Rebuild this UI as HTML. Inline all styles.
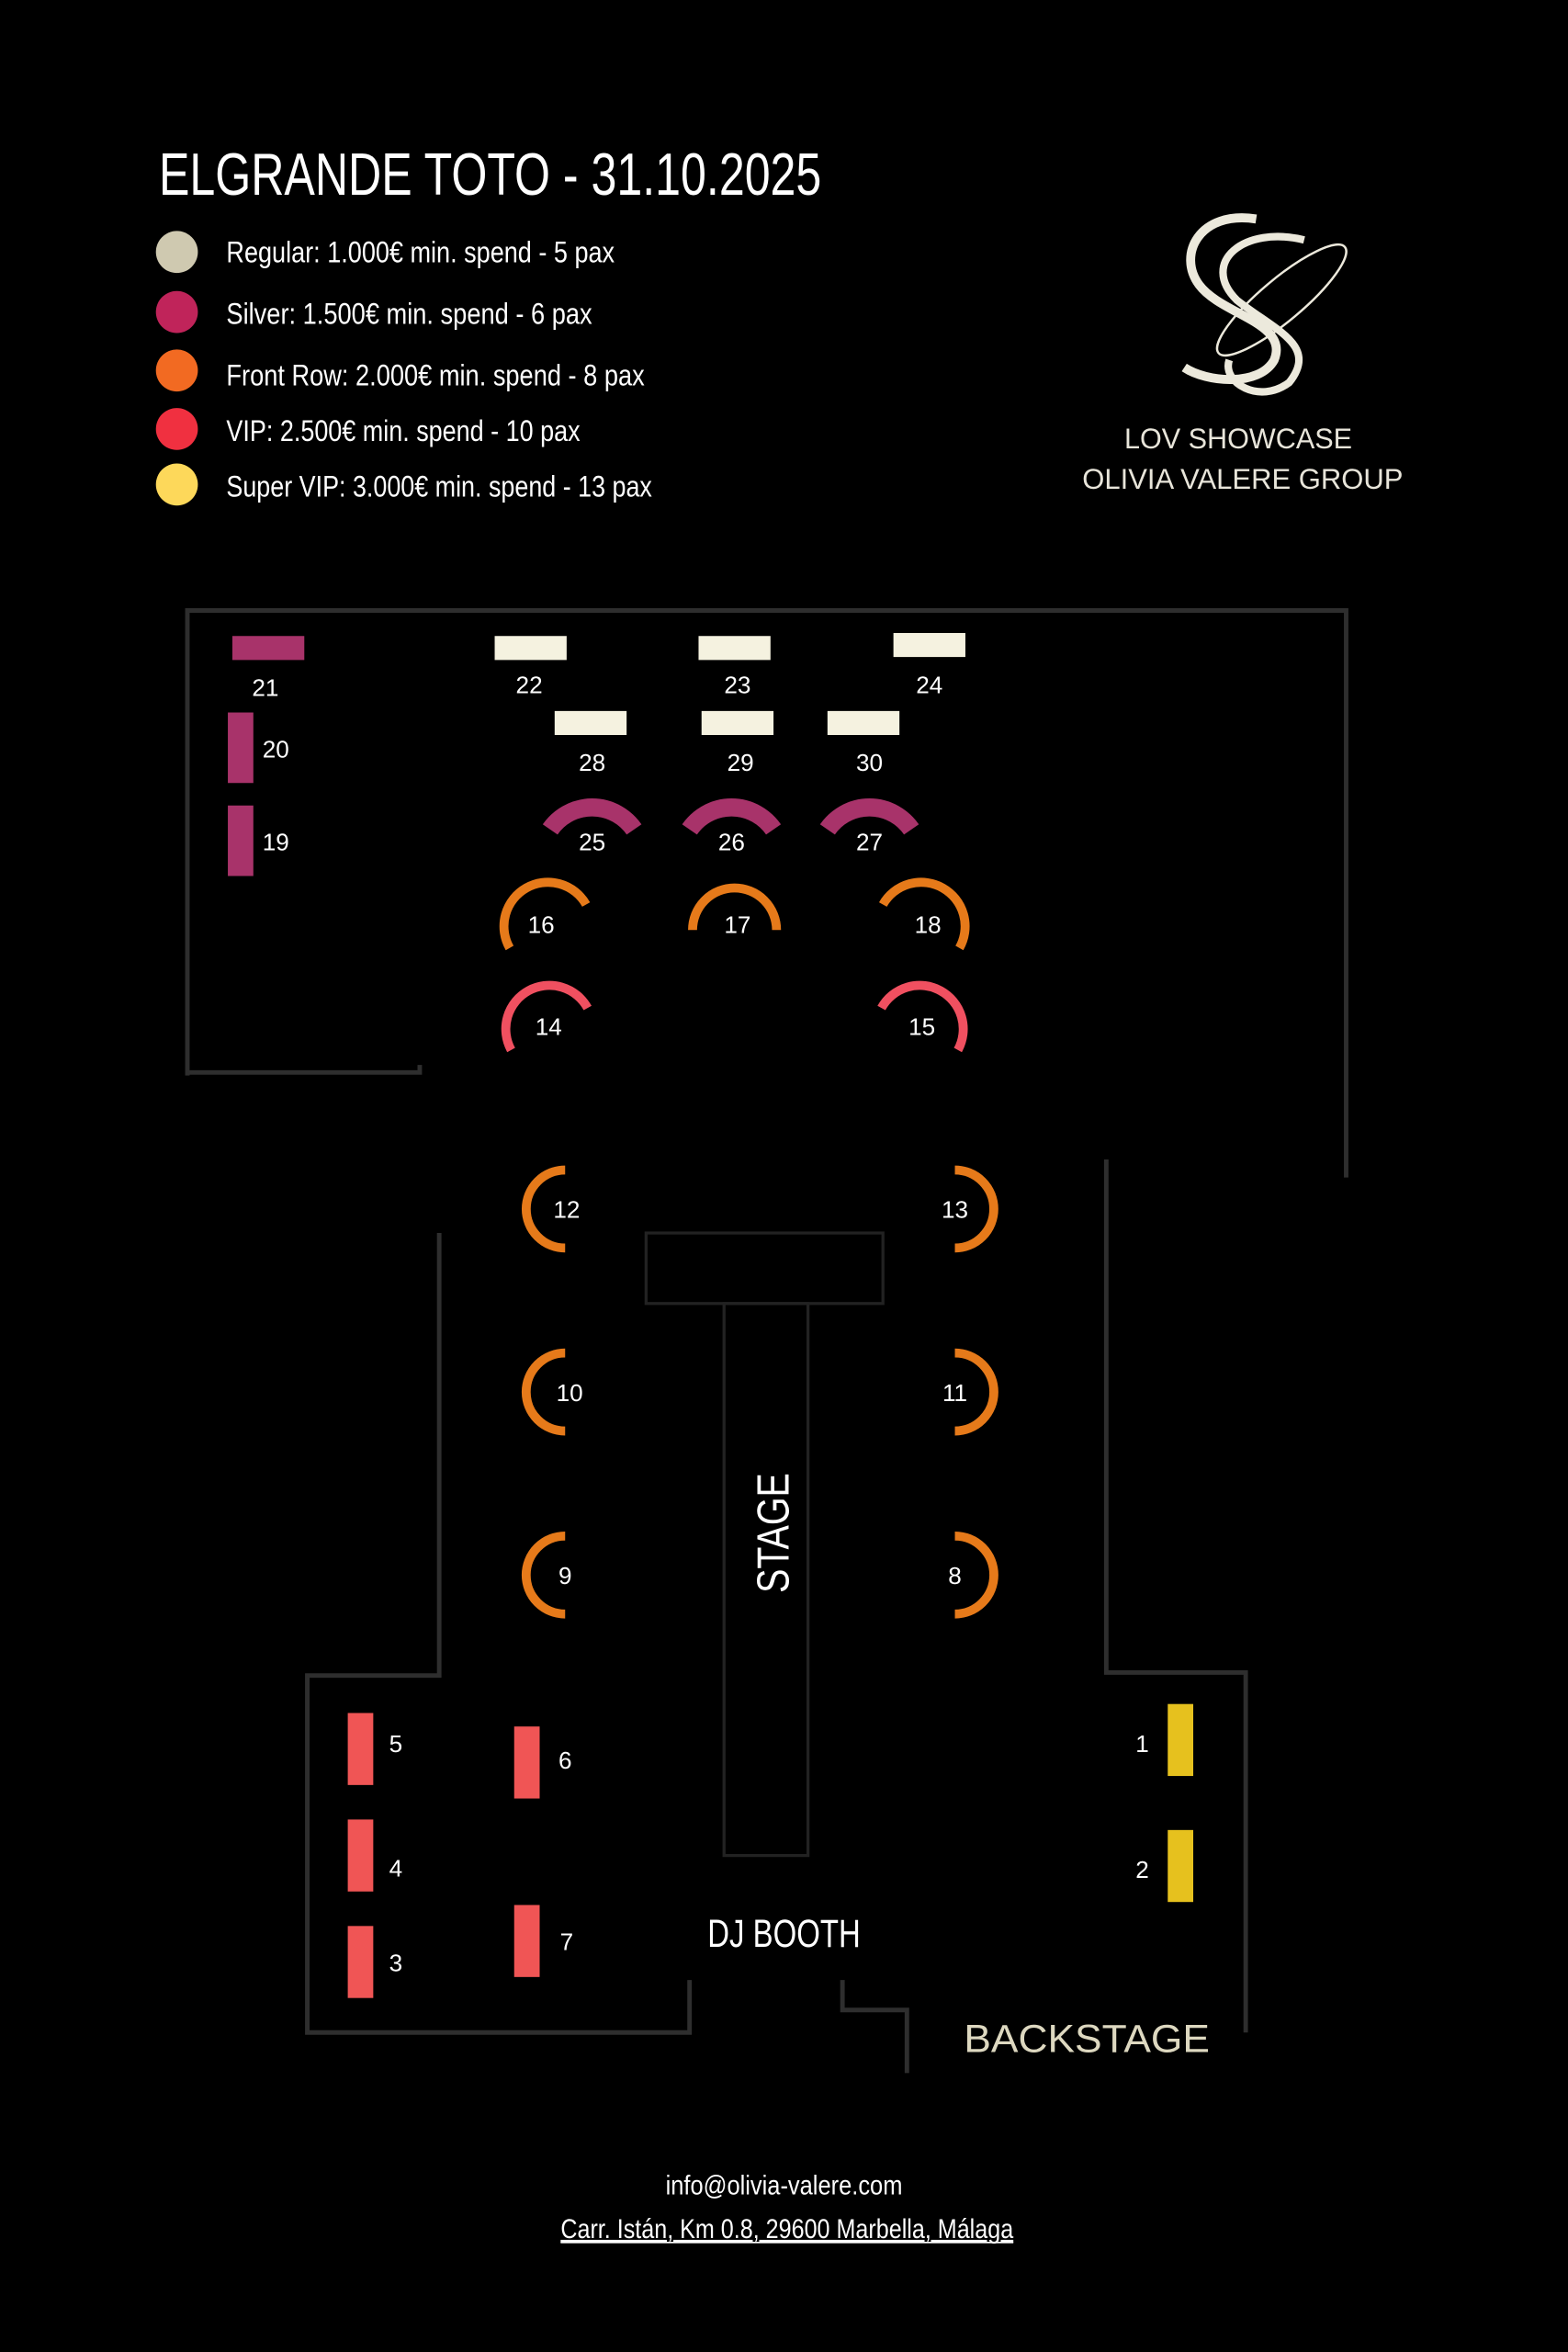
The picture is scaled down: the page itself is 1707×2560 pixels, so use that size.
<!DOCTYPE html>
<html><head><meta charset="utf-8"><style>
html,body{margin:0;padding:0;background:#000;}
svg{display:block;}
text{font-family:"Liberation Sans",sans-serif;}
</style></head><body>
<svg width="1707" height="2560" viewBox="0 0 1046 1568" preserveAspectRatio="none" xmlns="http://www.w3.org/2000/svg">
<rect width="1046" height="1568" fill="#000"/>
<text x="106" y="130" font-size="40" fill="#fff" textLength="442" lengthAdjust="spacingAndGlyphs">ELGRANDE TOTO - 31.10.2025</text>
<g font-size="20" fill="#fff">
<circle cx="118" cy="168" r="14" fill="#cfc9b0"/><text x="151" y="175" textLength="259" lengthAdjust="spacingAndGlyphs">Regular: 1.000€ min. spend - 5 pax</text>
<circle cx="118" cy="208" r="14" fill="#c0245a"/><text x="151" y="216" textLength="244" lengthAdjust="spacingAndGlyphs">Silver: 1.500€ min. spend - 6 pax</text>
<circle cx="118" cy="247" r="14" fill="#f26a22"/><text x="151" y="257" textLength="279" lengthAdjust="spacingAndGlyphs">Front Row: 2.000€ min. spend - 8 pax</text>
<circle cx="118" cy="286" r="14" fill="#f03040"/><text x="151" y="294" textLength="236" lengthAdjust="spacingAndGlyphs">VIP: 2.500€ min. spend - 10 pax</text>
<circle cx="118" cy="323" r="14" fill="#fdd85a"/><text x="151" y="331" textLength="284" lengthAdjust="spacingAndGlyphs">Super VIP: 3.000€ min. spend - 13 pax</text>
</g>
<!-- logo -->
<g fill="none" stroke="#ece9dc">
<path d="M838 146 C800 140 785 170 800 190 C815 210 860 215 850 240 C840 258 805 255 790 245" stroke-width="6"/>
<path d="M870 160 C830 150 800 175 825 200 C850 220 880 230 860 255 C840 270 815 255 820 240" stroke-width="5"/>
<ellipse cx="855" cy="200" rx="55" ry="14" transform="rotate(-40 855 200)" stroke-width="1.5"/>
</g>
<text x="826" y="299" font-size="19" fill="#e8e5da" text-anchor="middle" textLength="152" lengthAdjust="spacingAndGlyphs">LOV SHOWCASE</text>
<text x="829" y="326" font-size="19" fill="#e8e5da" text-anchor="middle" textLength="214" lengthAdjust="spacingAndGlyphs">OLIVIA VALERE GROUP</text>
<!-- walls -->
<g stroke="#2e2e2e" stroke-width="3" fill="none">
<polyline points="125,717 125,407 898,407 898,785"/>
<polyline points="125,715 280,715 280,710"/>
<polyline points="293,822 293,1117 205,1117 205,1355 460,1355 460,1320"/>
<polyline points="738,773 738,1115 831,1115 831,1355"/>
<polyline points="562,1320 562,1340 605,1340 605,1382"/>
</g>
<g stroke="#222" stroke-width="2" fill="none">
<rect x="431" y="822" width="158" height="47"/>
<rect x="483" y="869" width="56" height="368"/>
</g>
<text transform="translate(526,1022) rotate(-90)" font-size="30" fill="#fff" text-anchor="middle" textLength="80" lengthAdjust="spacingAndGlyphs">STAGE</text>
<text x="523" y="1298" font-size="26" fill="#fff" text-anchor="middle" textLength="102" lengthAdjust="spacingAndGlyphs">DJ BOOTH</text>
<text x="725" y="1368" font-size="26" fill="#ddd8c0" text-anchor="middle" textLength="164" lengthAdjust="spacingAndGlyphs">BACKSTAGE</text>
<!-- silver tables -->
<g fill="#a8336a">
<rect x="155" y="424" width="48" height="16"/><rect x="152" y="475" width="17" height="47"/><rect x="152" y="537" width="17" height="47"/>
</g>
<g fill="#f5f2e0">
<rect x="330" y="424" width="48" height="16"/><rect x="466" y="424" width="48" height="16"/><rect x="596" y="422" width="48" height="16"/>
<rect x="370" y="474" width="48" height="16"/><rect x="468" y="474" width="48" height="16"/><rect x="552" y="474" width="48" height="16"/>
</g>
<!-- silver arcs -->
<g fill="none" stroke="#a8336a" stroke-width="12">
<path d="M367 553 A34 34 0 0 1 423 553"/>
<path d="M460 553 A34 34 0 0 1 516 553"/>
<path d="M552 553 A34 34 0 0 1 608 553"/>
</g>
<!-- front row arcs -->
<g fill="none" stroke="#e67a1a" stroke-width="6">
<path d="M340 632 A27 27 0 0 1 391 603"/>
<path d="M462 620 A28 28 0 0 1 518 620"/>
<path d="M640 632 A27 27 0 0 0 589 603"/>
<path d="M377 780 A26 26 0 0 0 377 832"/>
<path d="M377 902 A26 26 0 0 0 377 954"/>
<path d="M377 1024 A26 26 0 0 0 377 1076"/>
<path d="M637 780 A26 26 0 0 1 637 832"/>
<path d="M637 902 A26 26 0 0 1 637 954"/>
<path d="M637 1024 A26 26 0 0 1 637 1076"/>
</g>
<g fill="none" stroke="#f05060" stroke-width="6">
<path d="M341 700 A27 27 0 0 1 392 672"/>
<path d="M639 700 A27 27 0 0 0 588 672"/>
</g>
<g fill="#f05555">
<rect x="232" y="1142" width="17" height="48"/><rect x="232" y="1213" width="17" height="48"/><rect x="232" y="1284" width="17" height="48"/>
<rect x="343" y="1151" width="17" height="48"/><rect x="343" y="1270" width="17" height="48"/>
</g>
<g fill="#e6c11e">
<rect x="779" y="1136" width="17" height="48"/><rect x="779" y="1220" width="17" height="48"/>
</g>
<g font-size="16" fill="#fff" text-anchor="middle">
<text x="177" y="464">21</text><text x="184" y="505">20</text><text x="184" y="567">19</text>
<text x="353" y="462">22</text><text x="492" y="462">23</text><text x="620" y="462">24</text>
<text x="395" y="514">28</text><text x="494" y="514">29</text><text x="580" y="514">30</text>
<text x="395" y="567">25</text><text x="488" y="567">26</text><text x="580" y="567">27</text>
<text x="361" y="622">16</text><text x="492" y="622">17</text><text x="619" y="622">18</text>
<text x="366" y="690">14</text><text x="615" y="690">15</text>
<text x="378" y="812">12</text><text x="637" y="812">13</text>
<text x="380" y="934">10</text><text x="637" y="934">11</text>
<text x="377" y="1056">9</text><text x="637" y="1056">8</text>
<text x="264" y="1168">5</text><text x="264" y="1251">4</text><text x="264" y="1314">3</text>
<text x="377" y="1179">6</text><text x="378" y="1300">7</text>
<text x="762" y="1168">1</text><text x="762" y="1252">2</text>
</g>
<text x="523" y="1463" font-size="18" fill="#fff" text-anchor="middle" textLength="158" lengthAdjust="spacingAndGlyphs">info@olivia-valere.com</text>
<text x="525" y="1492" font-size="18" fill="#fff" text-anchor="middle" text-decoration="underline" textLength="302" lengthAdjust="spacingAndGlyphs">Carr. Istán, Km 0.8, 29600 Marbella, Málaga</text>
<line x1="374" y1="1495" x2="676" y2="1495" stroke="#fff" stroke-width="1"/>
</svg>
</body></html>
